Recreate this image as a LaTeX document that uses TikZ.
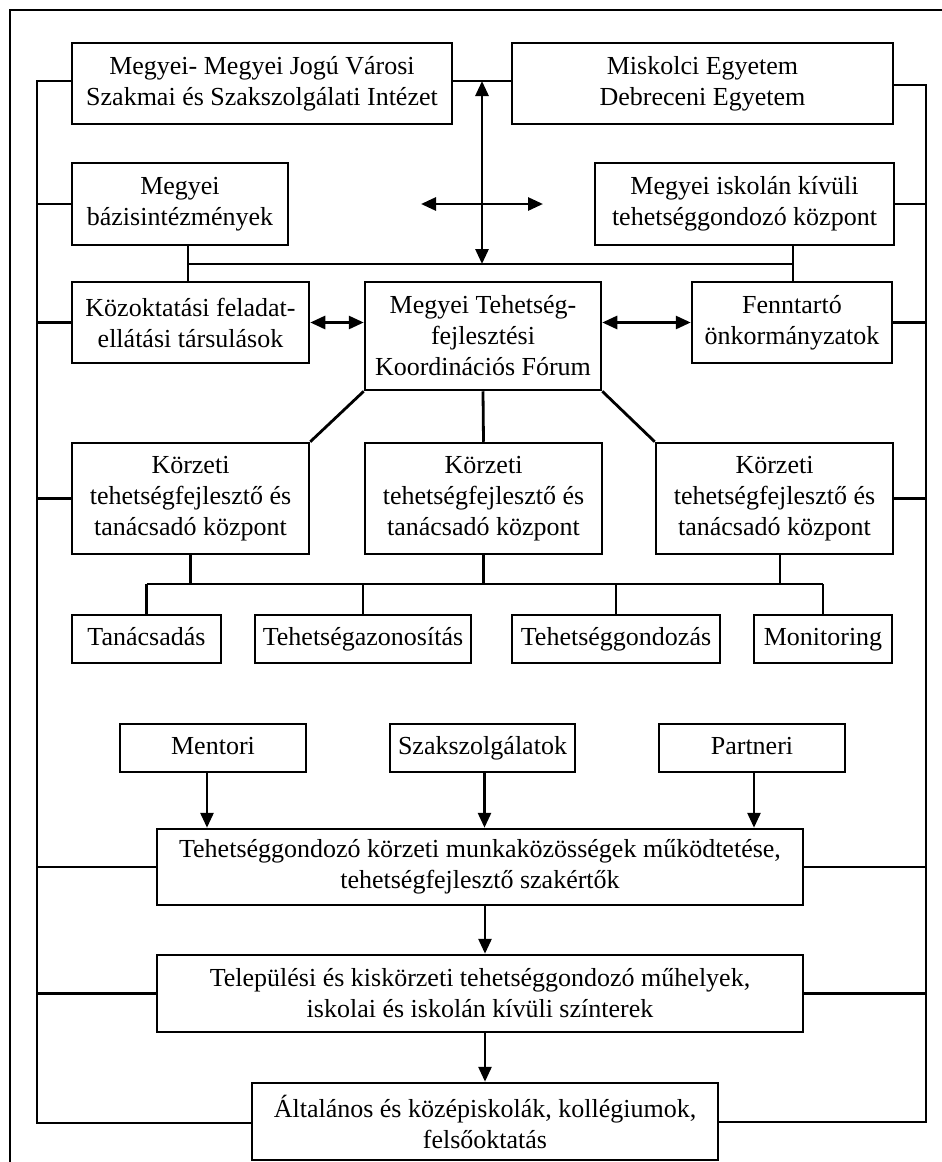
\documentclass[tikz,border=0pt]{standalone}
\usepackage{fontspec}
\setmainfont{Liberation Serif}
\usetikzlibrary{arrows.meta}
\begin{document}
\begin{tikzpicture}[x=1pt,y=-1pt,
  box/.style={draw=black, line width=2.5pt, inner sep=0pt, align=center,
    font=\fontsize{26}{31}\selectfont},
  one/.style={text height=17pt, text depth=5pt},
  conn/.style={draw=black, line width=2.8pt},
  arr/.style={conn, -{Triangle[length=15pt,width=13pt]}},
  dbl/.style={conn, {Triangle[length=15pt,width=13pt]}-{Triangle[length=15pt,width=13pt]}},
  frame/.style={draw=black, line width=2.2pt}]
\useasboundingbox (0,0) rectangle (942,1162);
% outer frame
\coordinate (F1) at (945,10);
\coordinate (F2) at (10,10);
\coordinate (F3) at (10,1165);
\draw[frame] (F1) -- (F2) -- (F3);
% boxes
\node[box, minimum width=380pt, minimum height=81pt] (b1) at (262,83.5) {Megyei- Megyei Jogú Városi\\Szakmai és Szakszolgálati Intézet};
\node[box, minimum width=381pt, minimum height=81pt] (b2) at (702.5,83.5) {Miskolci Egyetem\\Debreceni Egyetem};
\node[box, minimum width=216pt, minimum height=82pt] (b3) at (180,204) {Megyei\\bázisintézmények};
\node[box, minimum width=299pt, minimum height=82pt] (b4) at (744.5,204) {Megyei iskolán kívüli\\tehetséggondozó központ};
\node[box, minimum width=237pt, minimum height=81pt] (b5) at (190.5,322.5) {Közoktatási feladat-\\ellátási társulások};
\node[box, minimum width=236pt, minimum height=108pt] (b6) at (483,336) {Megyei Tehetség-\\fejlesztési\\Koordinációs Fórum};
\node[box, minimum width=200pt, minimum height=81pt] (b7) at (792,322.5) {Fenntartó\\önkormányzatok};
\node[box, minimum width=237pt, minimum height=111pt] (k1) at (190.5,498.5) {Körzeti\\tehetségfejlesztő és\\tanácsadó központ};
\node[box, minimum width=237pt, minimum height=111pt] (k2) at (483.5,498.5) {Körzeti\\tehetségfejlesztő és\\tanácsadó központ};
\node[box, minimum width=237pt, minimum height=111pt] (k3) at (774.5,498.5) {Körzeti\\tehetségfejlesztő és\\tanácsadó központ};
\node[box, one, minimum width=149pt, minimum height=48pt] (t1) at (146.5,639) {Tanácsadás};
\node[box, one, minimum width=216pt, minimum height=48pt] (t2) at (363,639) {Tehetségazonosítás};
\node[box, one, minimum width=208pt, minimum height=48pt] (t3) at (616,639) {Tehetséggondozás};
\node[box, one, minimum width=138pt, minimum height=48pt] (t4) at (823,639) {Monitoring};
\node[box, one, minimum width=186pt, minimum height=48pt] (m1) at (213,748) {Mentori};
\node[box, one, minimum width=185pt, minimum height=48pt] (m2) at (482.5,748) {Szakszolgálatok};
\node[box, one, minimum width=186pt, minimum height=48pt] (m3) at (752,748) {Partneri};
\node[box, minimum width=646pt, minimum height=76pt] (w1) at (480,867) {Tehetséggondozó körzeti munkaközösségek működtetése,\\tehetségfejlesztő szakértők};
\node[box, minimum width=646pt, minimum height=77pt] (w2) at (480,993.5) {Települési és kiskörzeti tehetséggondozó műhelyek,\\iskolai és iskolán kívüli színterek};
\node[box, minimum width=466pt, minimum height=77pt] (w3) at (485,1121.5) {Általános és középiskolák, kollégiumok,\\felsőoktatás};
% side buses
\coordinate (LT) at (37,81);
\coordinate (LB) at (37,1123);
\coordinate (RT) at (926,85);
\coordinate (RB) at (926,1122);
\draw[conn] (b1.west |- LT) -- (LT) -- (LB) -- (w3.west |- LB);
\draw[conn] (b2.east |- RT) -- (RT) -- (RB) -- (w3.east |- RB);
\foreach \n in {b3,b5,k1,w1,w2} \draw[conn] (\n.west) -- (\n.west -| LT);
\foreach \n in {b4,b7,k3,w1,w2} \draw[conn] (\n.east) -- (\n.east -| RT);
% top link and cross arrows
\draw[conn] (b1.east |- LT) -- (b2.west |- LT);
\coordinate (VA) at (482,81);
\coordinate (VB) at (482,264);
\draw[dbl] (VA) -- (VB);
\coordinate (HA1) at (421,204);
\coordinate (HA2) at (543,204);
\draw[dbl] (HA1) -- (HA2);
\coordinate (HL) at (188,264);
\coordinate (HR) at (793,264);
\draw[conn] (HL) -- (HR);
\draw[conn] (b3.south -| HL) -- (b5.north -| HL);
\draw[conn] (b4.south -| HR) -- (b7.north -| HR);
% forum links
\draw[dbl] (b5.east) -- (b5.east -| b6.west);
\draw[dbl] (b6.east |- b7.west) -- (b7.west);
\draw[conn] (b6.south west) -- (k1.north east);
\draw[conn] (b6.south) -- (k2.north);
\draw[conn] (b6.south east) -- (k3.north west);
% district bus
\coordinate (KB) at (0,584);
\coordinate (K3) at (780,584);
\draw[conn] (k1.south) -- (k1.south |- KB);
\draw[conn] (k2.south) -- (k2.south |- KB);
\draw[conn] (k3.south -| K3) -- (K3);
\draw[conn] (t1.north |- KB) -- (t4.north |- KB);
\foreach \n in {t1,t2,t3,t4} \draw[conn] (\n.north |- KB) -- (\n.north);
% lower arrows
\draw[arr] ([xshift=-6pt]m1.south) -- ([xshift=-6pt]m1.south |- w1.north);
\draw[arr] ([xshift=2pt]m2.south) -- ([xshift=2pt]m2.south |- w1.north);
\draw[arr] ([xshift=2pt]m3.south) -- ([xshift=2pt]m3.south |- w1.north);
\draw[arr] ([xshift=5pt]w1.south) -- ([xshift=5pt]w1.south |- w2.north);
\draw[arr] ([xshift=5pt]w2.south) -- ([xshift=5pt]w2.south |- w3.north);
\end{tikzpicture}
\end{document}
